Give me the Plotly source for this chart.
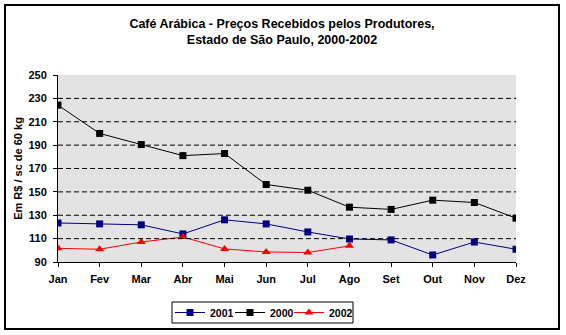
import plotly.graph_objects as go

# Monthly coffee prices (R$ per 60 kg bag)
meses = ["Jan", "Fev", "Mar", "Abr", "Mai", "Jun", "Jul", "Ago", "Set", "Out", "Nov", "Dez"]
precos_2001 = [123.4, 122.6, 121.8, 114.0, 126.1, 122.6, 115.7, 109.7, 108.9, 96.0, 107.1, 100.9]
precos_2000 = [224.2, 200.0, 190.5, 181.0, 182.8, 156.3, 151.4, 136.9, 135.0, 142.9, 140.9, 127.5]
precos_2002 = [101.7, 100.9, 107.1, 111.4, 101.2, 98.6, 98.1, 103.8]
y_ticks = [90, 110, 130, 150, 170, 190, 210, 230, 250]
grid_vals = [110, 130, 150, 170, 190, 210, 230]

W, H = 566, 335
L, R, T, B = 58, 516, 75, 262  # plot area in pixels
FONT = "Liberation Sans, Arial, sans-serif"
BOLD11 = dict(family=FONT, size=11, color="black", weight="bold")
x_idx = list(range(len(meses)))

series = [
    ("2001", x_idx, precos_2001, "#000080", "square", 7, "legend"),
    ("2000", x_idx, precos_2000, "#000000", "square", 7, "legend2"),
    ("2002", x_idx[:len(precos_2002)], precos_2002, "#ff0000", "triangle-up", 8, "legend3"),
]

fig = go.Figure()
for name, xs, ys, color, symbol, msize, leg in series:
    fig.add_trace(go.Scatter(
        x=xs, y=ys, name=name, mode="lines+markers", legend=leg,
        line=dict(color=color, width=1),
        marker=dict(symbol=symbol, size=msize, color=color),
    ))

pw, ph = R - L, B - T

def px_x(x):
    return (x - L) / pw

def px_y(y):
    return (B - y) / ph

shapes = []
# dashed horizontal gridlines
for v in grid_vals:
    shapes.append(dict(type="line", xref="paper", yref="y", x0=0, x1=1, y0=v, y1=v,
                       line=dict(color="black", width=1, dash="5px,3px"), layer="above"))
# outer chart border
for x0, y0, x1, y1 in [(4, 5, 560, 5), (4, 329, 560, 329), (5, 4, 5, 330), (559, 4, 559, 330)]:
    shapes.append(dict(type="line", xref="paper", yref="paper",
                       x0=px_x(x0), x1=px_x(x1), y0=px_y(y0), y1=px_y(y1),
                       line=dict(color="black", width=2)))
# legend frame
shapes.append(dict(type="rect", xref="paper", yref="paper",
                   x0=px_x(172), x1=px_x(353), y0=px_y(323), y1=px_y(302),
                   line=dict(color="black", width=1), fillcolor="rgba(0,0,0,0)"))

legend_common = dict(
    orientation="h", xref="container", yref="container",
    xanchor="left", yanchor="middle", y=1 - 312.5 / H,
    bgcolor="rgba(0,0,0,0)", borderwidth=0, itemwidth=30,
    font=dict(family=FONT, size=10.5, color="black", weight="bold"),
)

fig.update_layout(
    width=W, height=H,
    margin=dict(l=L, r=W - R, t=T, b=H - B),
    paper_bgcolor="white",
    plot_bgcolor="#e3e3e3",
    font=dict(family=FONT, size=11, color="black"),
    title=dict(
        text="Café Arábica - Preços Recebidos pelos Produtores,<br>Estado de São Paulo, 2000-2002",
        x=282 / W, xanchor="center", y=1 - 28 / H, yanchor="top",
        font=dict(family=FONT, size=12.5, color="black", weight="bold"),
    ),
    xaxis=dict(
        range=[0, 11], tickvals=x_idx, ticktext=meses,
        showline=True, linecolor="black", linewidth=1,
        ticks="outside", ticklen=4, tickcolor="black",
        showgrid=False, zeroline=False, fixedrange=True,
        tickfont=BOLD11, ticklabelstandoff=3,
    ),
    xaxis2=dict(
        range=[0, 11], tickvals=x_idx, overlaying="x", anchor="y",
        ticks="inside", ticklen=3, tickcolor="black", showticklabels=False,
        showline=False, showgrid=False, zeroline=False, fixedrange=True,
    ),
    yaxis=dict(
        range=[90, 250], tickvals=y_ticks,
        showline=True, linecolor="black", linewidth=1,
        ticks="outside", ticklen=4, tickcolor="black",
        showgrid=False, zeroline=False, fixedrange=True,
        tickfont=BOLD11, ticklabelstandoff=4,
        title=dict(text="Em R$ / sc de 60 kg", standoff=3, font=BOLD11),
    ),
    yaxis2=dict(
        range=[90, 250], tickvals=y_ticks, overlaying="y", anchor="x", side="left",
        ticks="inside", ticklen=3, tickcolor="black", showticklabels=False,
        showline=False, showgrid=False, zeroline=False, fixedrange=True,
    ),
    legend=dict(legend_common, x=170 / W),
    legend2=dict(legend_common, x=230 / W),
    legend3=dict(legend_common, x=289 / W),
    shapes=shapes,
    showlegend=True,
)

fig.write_html("out.html")
